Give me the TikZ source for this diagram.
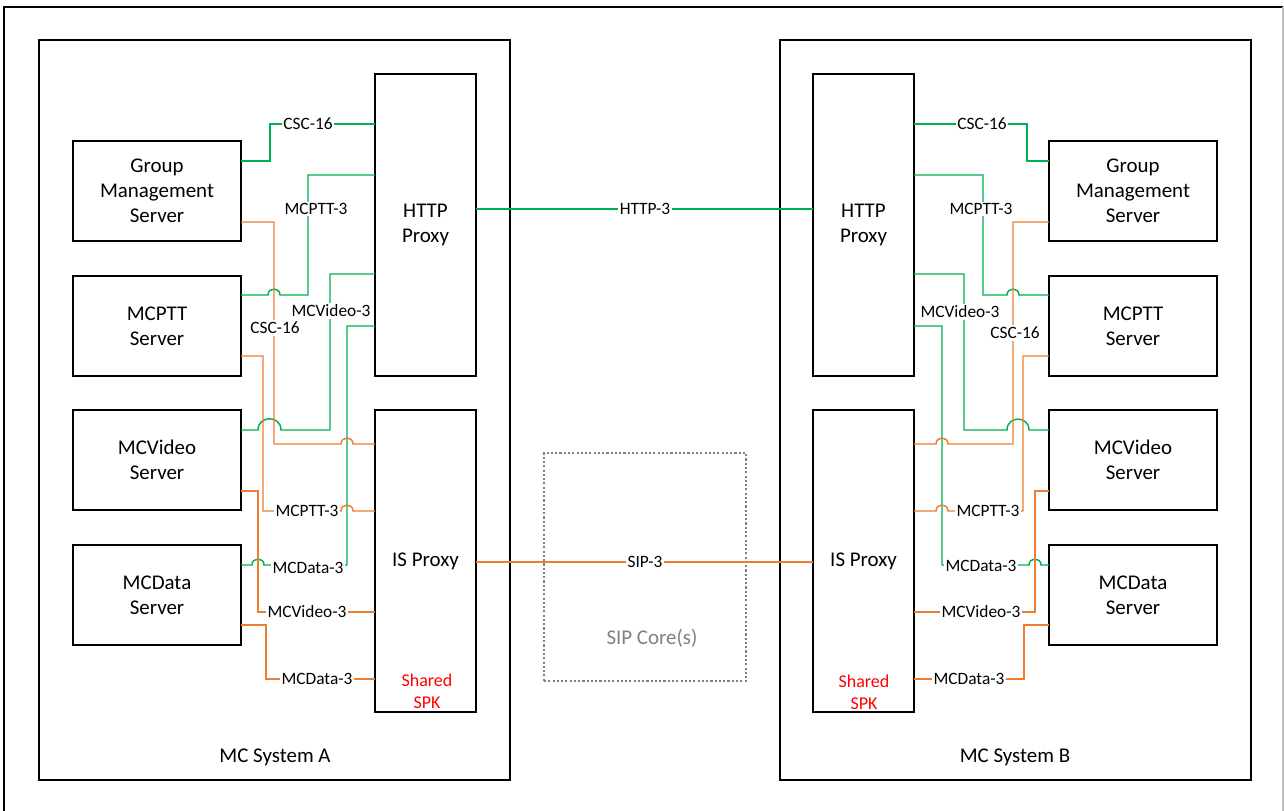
\documentclass[tikz,border=0pt]{standalone}
\usepackage{fontspec}
\setmainfont{Carlito}
\usetikzlibrary{calc}
\definecolor{cgreen}{RGB}{0,176,80}
\definecolor{corange}{RGB}{237,125,49}
\definecolor{cgray}{RGB}{128,128,128}
\newcommand\myBig{\fontsize{15.7}{18.75}\selectfont}
\newcommand\mySmall{\fontsize{13}{15}\selectfont}
\newcommand\mySpk{\fontsize{13.5}{16.5}\selectfont}
\begin{document}
\begin{tikzpicture}[x=0.75pt,y=-0.75pt,
  box/.style={draw=black, line width=1.3pt, outer sep=0pt, inner sep=0pt},
  srv/.style={box, anchor=north west, minimum width=126pt, minimum height=75pt, align=center, font=\myBig},
  prx/.style={box, anchor=north west, minimum width=75.75pt, minimum height=226.5pt, align=center, font=\myBig},
  sys/.style={box, anchor=north west, minimum width=353.25pt, minimum height=555pt},
  gline/.style={draw=cgreen, line width=1.1pt},
  oline/.style={draw=corange, line width=1.1pt},
  lbl/.style={fill=white, inner sep=1.2pt, font=\mySmall},
  title/.style={font=\myBig},
  spk/.style={font=\mySpk, text=red, align=center}]
\useasboundingbox (0,0) rectangle (1284,810);
% outer frame
\draw[line width=1.1pt] (4,815) -- (4,7) -- (1283,7);
\draw[line width=1.1pt, black!25] (1283,7) -- (1283,815);

% systems
\node[sys] (sysA) at (39,40) {};
\node[sys] (sysB) at (780,40) {};
\node[title] (tA) at (275,757) {MC System A};
\node[title] (tB) at (1015,757) {MC System B};

% SIP core
\node[draw=cgray, dash pattern=on 1.6pt off 1.6pt, line width=1.1pt, anchor=north west,
      minimum width=151.5pt, minimum height=171pt, outer sep=0pt] (sip) at (544,453) {};
\node[font=\myBig, text=cgray] (sipt) at (652,638) {SIP Core(s)};

% left servers and proxies
\node[srv] (gmsA) at (73,141) {Group\\Management\\Server};
\node[srv] (mcpttA) at (73,276) {MCPTT\\Server};
\node[srv] (mcvideoA) at (73,410) {MCVideo\\Server};
\node[srv] (mcdataA) at (73,545) {MCData\\Server};
\node[prx] (httpA) at (375,74) {HTTP\\Proxy};
\node[prx] (isA) at (375,410) {IS Proxy};
\node[spk] (spkA) at (427,691) {Shared\\SPK};

% right servers and proxies
\node[srv] (gmsB) at (1049,141) {Group\\Management\\Server};
\node[srv] (mcpttB) at (1049,276) {MCPTT\\Server};
\node[srv] (mcvideoB) at (1049,410) {MCVideo\\Server};
\node[srv] (mcdataB) at (1049,545) {MCData\\Server};
\node[prx] (httpB) at (813,74) {HTTP\\Proxy};
\node[prx] (isB) at (813,410) {IS Proxy};
\node[spk] (spkB) at (864,692) {Shared\\SPK};

% inter-system links
\draw[gline] (httpA.east |- 0,209) -- (httpB.west |- 0,209);
\draw[oline] (isA.east |- 0,562) -- (isB.west |- 0,562);

% ---- left green
\draw[gline] (gmsA.east |- 0,161) -| (270,124) -- (httpA.west |- 0,124);
\draw[gline] (mcpttA.east |- 0,295) -- (268,295) .. controls (268,287) and (280,287) .. (280,295)
  -- (308,295) -- (308,175) -- (httpA.west |- 0,175);
\draw[gline] (mcvideoA.east |- 0,430) -- (258,430) .. controls (258,415) and (281,415) .. (281,430)
  -- (330,430) -- (330,274) -- (httpA.west |- 0,274);
\draw[gline] (mcdataA.east |- 0,565) -- (252,565) .. controls (252,557) and (264,557) .. (264,565)
  -- (347,565) -- (347,326) -- (httpA.west |- 0,326);
% ---- left orange
\draw[oline] (gmsA.east |- 0,222) -- (274,222) -- (274,444) -- (341,444)
  .. controls (341,436) and (353,436) .. (353,444) -- (isA.west |- 0,444);
\draw[oline] (mcpttA.east |- 0,356) -- (263,356) -- (263,511) -- (341,511)
  .. controls (341,503) and (353,503) .. (353,511) -- (isA.west |- 0,511);
\draw[oline] (mcvideoA.east |- 0,491) -- (258,491) -- (258,612) -- (isA.west |- 0,612);
\draw[oline] (mcdataA.east |- 0,625) -- (266,625) -- (266,679) -- (isA.west |- 0,679);

% ---- right green
\draw[gline] (httpB.east |- 0,124) -- (1027,124) |- (gmsB.west |- 0,161);
\draw[gline] (httpB.east |- 0,175) -- (983,175) -- (983,295) -- (1007,295)
  .. controls (1007,287) and (1019,287) .. (1019,295) -- (mcpttB.west |- 0,295);
\draw[gline] (httpB.east |- 0,274) -- (964,274) -- (964,430) -- (1007,430)
  .. controls (1007,415.5) and (1029,415.5) .. (1029,430) -- (mcvideoB.west |- 0,430);
\draw[gline] (httpB.east |- 0,326) -- (942,326) -- (942,565) -- (1029,565)
  .. controls (1029,557) and (1041,557) .. (1041,565) -- (mcdataB.west |- 0,565);
% ---- right orange
\draw[oline] (gmsB.west |- 0,222) -- (1013,222) -- (1013,444) -- (948,444)
  .. controls (948,436) and (936,436) .. (936,444) -- (isB.east |- 0,444);
\draw[oline] (mcpttB.west |- 0,356) -- (1023,356) -- (1023,511) -- (948,511)
  .. controls (948,503) and (936,503) .. (936,511) -- (isB.east |- 0,511);
\draw[oline] (mcvideoB.west |- 0,491) -- (1035,491) -- (1035,612) -- (isB.east |- 0,612);
\draw[oline] (mcdataB.west |- 0,625) -- (1024,625) -- (1024,679) -- (isB.east |- 0,679);

% labels
\node[lbl] (lh) at (645,209) {HTTP-3};
\node[lbl] (ls) at (645,562) {SIP-3};
% left
\node[lbl] (la1) at (308,124) {CSC-16};
\node[lbl] (la2) at (316,209) {MCPTT-3};
\node[lbl] (la3) at (331,311) {MCVideo-3};
\node[lbl] (la4) at (308,568) {MCData-3};
\node[lbl] (la5) at (275,328) {CSC-16};
\node[lbl] (la6) at (307,511) {MCPTT-3};
\node[lbl] (la7) at (307,612) {MCVideo-3};
\node[lbl] (la8) at (317,679) {MCData-3};
% right
\node[lbl] (lb1) at (982,124) {CSC-16};
\node[lbl] (lb2) at (981,209) {MCPTT-3};
\node[lbl] (lb3) at (960,312) {MCVideo-3};
\node[lbl] (lb4) at (981,566) {MCData-3};
\node[lbl] (lb5) at (1015,333) {CSC-16};
\node[lbl] (lb6) at (988,511) {MCPTT-3};
\node[lbl] (lb7) at (981,612) {MCVideo-3};
\node[lbl] (lb8) at (969,679) {MCData-3};
\end{tikzpicture}
\end{document}
